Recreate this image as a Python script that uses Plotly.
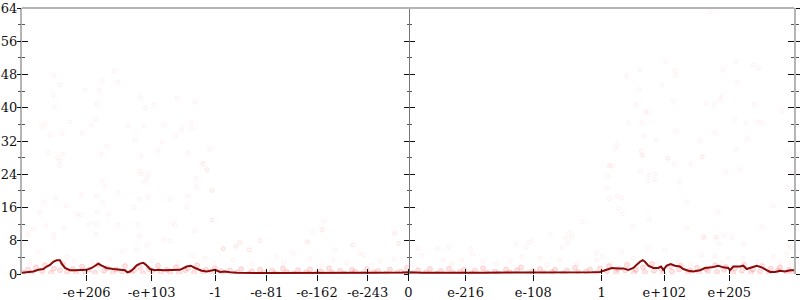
import plotly.graph_objects as go

# ---- tick labels (x axis is an ordinal float axis, positions in axis units) ----
x_tick_pos = [64.7, 129.7, 193.5, 244.7, 295.0, 345.7, 386.5, 443.7, 511.3, 579.7, 642.3, 707.3]
x_tick_text = ["-e+206", "-e+103", "-1", "-e-81", "-e-162", "-e-243", "0",
               "e-216", "e-108", "1", "e+102", "e+205"]
y_tick_vals = [0, 8, 16, 24, 32, 40, 48, 56, 64]

# ---- sparse error points (bits of error) ----
pts_x = [32.3, 38, 31.3, 32.3, 19.7, 23, 28, 40, 26.3, 35.3, 38, 37.3, 40.7, 33.3, 21.7, 17.3,
         23.7, 11.3, 5.7, 31.7, 32, 42, 44, 55.3, 59.3, 59.7, 60.3, 48, 63.3, 77.3, 80.7, 92,
         95.7, 74.7, 73.7, 69.3, 84.7, 79.3, 80.3, 83.3, 80.7, 74.7, 75.3, 73.7, 74, 66.7,
         86.7, 96, 96, 106, 113.3, 118.7, 123.3, 122.3, 131.7, 119.3, 117, 119.7, 126.3, 124.7,
         121.7, 135.7, 140, 141.7, 153.7, 155, 159.7, 173, 169.3, 170.3, 165.7, 187.7, 181.3,
         185, 174, 174.7, 189.7, 165.7, 164.7, 190, 172.7, 148, 126, 117, 112, 116.3, 117.3,
         141.7, 147.7, 150.3, 153.3, 125, 200.7, 213.7, 218, 238.7, 285.7, 291.3, 300.3, 301.7,
         330.7, 373, 376.3, 181.3, 184.7, 189.7, 190.3, 238, 218, 214, 201.3, 227.3, 299.7,
         285.3, 331.3, 372.3, 377.3,
         393, 560.7, 528, 547.3, 543.7, 550, 545.7, 510.7, 507.3, 494, 504, 539.7, 427.3, 415.3,
         396.3, 448.7, 604.7, 618, 643.7, 653, 654, 639.7, 616.7, 614.3, 623.3, 625, 606.7, 620,
         622, 634, 595, 593.7, 619, 621, 645.3, 652, 668.7, 587, 590.7, 586, 618, 627.3, 633.7,
         625.7, 632.7, 657.7, 585.3, 587.3, 595.7, 599.7, 596.7, 600.3, 627.3, 611, 664.7, 665,
         651.3, 683.7, 691.7, 698, 699.7, 701.3, 714, 731.3, 736.7, 715, 732, 712.7, 724, 735.3,
         740, 759.7, 653.7, 692.7, 678.3, 725, 713.7, 680.7, 704.3, 718.7, 768, 765.3, 751.3,
         740, 696, 680.7, 683, 693.7, 702, 710, 697.3, 721.7, 766.3, 768.7, 688, 619.7, 588,
         646.3, 679.7, 769.7, 681.3, 694.7,
         16.3, 52, 100.3, 114.7, 156.3, 183, 201.3, 227.3, 254.7, 271.3, 288, 311.3, 313, 338,
         341.3, 358, 211.3, 391.3, 421.3, 439.7, 461.3, 488, 518, 538, 574.7, 574.7, 643, 626.3,
         656.3, 679.7, 693, 706.3, 721.3, 751.3, 764.7, 769.7, 611.3, 580.3,
         8, 30, 45, 70, 88, 130, 170, 192, 230, 262, 300, 325, 350, 372, 400, 430, 450, 475,
         500, 525, 555, 590, 600, 635, 668, 700, 735, 758]
pts_y = [47.8, 45.6, 43.1, 40.2, 35.5, 36.2, 33.5, 33.8, 29.2, 28.0, 27.2, 26.1, 28.8, 18.4, 17.2, 14.8,
         11.6, 10.8, 9.4, 9.6, 8.6, 11.0, 16.4, 14.4, 14.2, 19.2, 34.0, 36.6, 44.2, 44.2, 46.6, 48.8,
         46.2, 40.9, 37.2, 35.8, 30.8, 28.9, 22.4, 21.1, 17.2, 18.7, 14.8, 12.1, 9.5, 12.0,
         14.4, 19.6, 11.8, 35.6, 32.4, 42.5, 39.9, 35.6, 40.7, 28.4, 24.8, 24.1, 24.0, 22.9,
         22.0, 29.7, 31.7, 36.0, 33.2, 42.3, 34.8, 41.3, 36.4, 35.0, 29.1, 30.0, 26.5,
         25.2, 23.1, 21.0, 20.0, 18.8, 16.1, 13.0, 10.4, 17.9, 18.5, 18.1, 16.0, 11.9, 9.1,
         8.2, 8.0, 12.2, 11.8, 6.9, 6.2, 6.8, 7.5, 8.0, 7.7, 10.1, 10.7, 12.7,
         7.0, 9.8, 7.4, 26.6, 25.0, 20.2, 13.0, 8.1, 7.6, 6.6, 6.0, 5.8, 10.6,
         7.8, 7.0, 9.7, 7.4,
         15.6, 12.5, 9.5, 9.8, 8.8, 8.9, 7.5, 8.2, 7.6, 7.3, 6.4, 6.4, 6.4, 6.2,
         6.2, 6.0, 47.6, 49.2, 51.0, 48.8, 47.8, 45.5, 44.4, 40.7, 39.0, 39.0, 36.4, 36.4,
         33.2, 32.2, 31.2, 30.2, 29.6, 28.5, 27.9, 26.5, 26.4, 26.1, 26.0, 23.6, 24.7, 23.8, 24.1,
         22.4, 22.8, 22.3, 20.5, 18.1, 18.8, 18.2, 15.7, 14.4, 13.2, 11.4, 17.2, 11.1,
         41.6, 41.0, 40.8, 42.0, 42.9, 49.2, 51.1, 50.3, 49.7, 46.0, 40.8, 37.1, 36.4, 36.6,
         36.4, 39.2, 34.3, 34.0, 32.0, 32.6, 30.0, 28.2, 24.5, 25.1, 29.0, 20.8, 16.4,
         11.4, 15.0, 8.8, 8.8, 8.8, 9.3, 8.8, 7.4, 7.3, 6.9, 6.4, 63.0, 28.6, 26.2,
         27.8, 28.2, 24.2, 9.0, 8.9,
         5.2, 3.2, 5.4, 5.8, 2.6, 3.8, 6.0, 5.8, 4.2, 5.0, 3.8, 3.4, 5.8, 5.0,
         4.6, 3.0, 3.4, 2.2, 3.4, 3.4, 3.0, 3.0, 3.8, 3.4, 5.0, 3.4, 5.8, 6.0,
         3.0, 4.6, 4.2, 3.8, 3.8, 4.2, 5.0, 2.2, 3.8, 4.2,
         2.5, 3.0, 4.2, 2.8, 3.6, 3.2, 4.4, 2.6, 2.4, 2.8, 2.0, 2.6, 2.2, 3.6, 4.4, 2.6, 4.8, 2.4,
         4.2, 2.2, 2.6, 2.4, 5.2, 2.8, 2.4, 2.6, 3.0, 2.6]

# ---- dense band of low-error points ----
band_x = [1, 6, 10, 14, 20, 23, 29, 32, 38, 41, 45, 51, 54, 60, 63, 67, 73, 76, 82, 85, 91, 94, 100,
          103, 109, 112, 118, 121, 127, 130, 136, 139, 145, 148, 154, 157, 163, 166, 172, 175, 181,
          184, 190, 193, 199, 203, 208, 215, 219, 227, 230, 238, 242, 250, 253, 261, 265, 272, 276,
          284, 288, 295, 299, 307, 310, 318, 322, 330, 333, 341, 345, 352, 356, 364, 368, 375, 379,
          385, 391, 396, 404, 408, 415, 419, 427, 431, 438, 442, 450, 453, 461, 465, 473, 476, 484,
          488, 495, 499, 507, 511, 518, 522, 530, 533, 541, 545, 553, 556, 564, 568, 575, 578, 585,
          587, 594, 596, 603, 605, 612, 614, 621, 623, 630, 632, 639, 641, 648, 650, 657, 659, 666,
          668, 675, 677, 684, 686, 693, 695, 702, 704, 711, 713, 720, 722, 729, 731, 738, 740, 747,
          749, 756, 758, 765, 767, 771]
band_y = [0.4, 1.1, 0.2, 1.6, 0.7, 2.1, 0.3, 1.3, 0.9, 2.4, 0.5, 1.2, 0.1, 1.8, 0.6, 1.0, 0.3, 2.2,
          0.8, 1.4, 0.2, 1.1, 0.6, 1.9, 0.4, 0.9, 1.5, 0.2, 1.2, 0.7, 2.0, 0.3, 1.0, 0.5, 1.6, 0.2,
          0.9, 1.3, 0.4, 2.1, 0.6, 1.0, 0.3, 1.4, 0.7, 0.2, 0.9, 0.4, 1.2, 0.1, 0.6, 1.0, 0.3, 0.8,
          0.2, 1.3, 0.5, 0.1, 0.9, 0.4, 1.1, 0.2, 0.6, 1.4, 0.3, 0.8, 0.1, 1.0, 0.5, 0.2, 1.2, 0.4,
          0.7, 0.1, 1.1, 0.3, 0.6, 1.5, 0.2, 0.9, 0.4, 1.2, 0.1, 0.7, 1.3, 0.3, 0.5, 1.0, 0.2, 0.8,
          1.4, 0.3, 0.6, 0.1, 1.1, 0.4, 0.9, 1.6, 0.2, 0.7, 1.2, 0.3, 0.5, 1.0, 0.1, 0.8, 1.5, 0.4,
          0.6, 1.1, 0.2, 1.3, 0.7, 1.9, 0.4, 1.2, 0.9, 2.2, 0.3, 1.0, 1.6, 0.5, 2.4, 0.8, 1.3, 0.2,
          1.8, 0.6, 1.1, 2.0, 0.4, 0.9, 1.5, 0.2, 1.2, 0.7, 2.1, 0.5, 1.0, 1.7, 0.3, 1.4, 0.8, 2.2,
          0.4, 1.1, 0.6, 1.9, 0.3, 1.3, 0.9, 1.6, 0.2, 1.0, 0.5, 1.4, 0.7, 1.2]

# ---- averaged error line ----
line_x = [0, 8, 11.3, 16.3, 21.3, 24.7, 28, 31.3, 34.7, 38, 39.7, 43, 48, 53, 58, 64.7, 69.7, 74,
          76.3, 79.7, 84.7, 91.3, 98, 103, 105.3, 108, 111.3, 114.7, 118, 121.3, 124, 128, 133,
          136.3, 141.3, 148, 158, 164.7, 168.7, 173, 179.7, 184.7, 189.7, 193, 198,
          203, 208, 215, 240, 265, 290, 320, 350, 380, 386, 400, 430, 460, 490, 520, 550, 570,
          578, 583, 589.7, 596.3, 601.3, 606.3, 611.3, 614.7, 618, 620.7, 623, 626.3, 631.3,
          636.3, 639, 641.3, 644.7, 648.7, 653, 658, 661.3, 666.3, 671.3, 678, 683, 689.7, 696.3,
          701.3, 706.3, 708, 711.3, 718, 721.3, 724.7, 729.7, 734.7, 739.7, 744.7, 748, 753, 758,
          763, 768, 772]
line_y = [0.3, 0.5, 0.6, 1.0, 1.2, 1.8, 2.2, 2.95, 3.3, 3.3, 2.5, 1.45, 0.9, 0.9, 1.0, 1.0, 1.45, 2.1,
          2.5, 2.0, 1.45, 1.2, 1.0, 0.9, 0.4, 0.6, 1.2, 2.1, 2.5, 2.7, 2.2, 1.2, 0.9,
          1.0, 0.9, 1.0, 1.0, 1.8, 2.0, 1.45, 0.8, 0.6, 0.9, 1.0, 0.5,
          0.6, 0.4, 0.3, 0.25, 0.3, 0.35, 0.3, 0.3, 0.35, 0.4, 0.3, 0.25, 0.3, 0.35, 0.35, 0.3, 0.4,
          0.5, 0.9, 1.45, 1.3, 1.35, 1.0, 1.45, 2.2, 2.95, 3.3, 2.95, 2.0, 1.45,
          1.45, 1.8, 1.0, 2.0, 2.4, 2.0, 1.8, 1.2, 0.8, 0.6, 0.9, 1.45, 1.6, 2.0,
          1.6, 1.45, 0.9, 1.8, 1.8, 2.0, 1.2, 1.6, 2.0, 1.6, 1.0, 0.5, 0.5, 0.8,
          0.6, 0.9, 0.9]

FONT = "'DejaVu Serif', 'Liberation Serif', serif"
X_RANGE = [0, 772]
Y_RANGE = [0, 64]

fig = go.Figure()
fig.add_trace(go.Scatter(
    x=band_x, y=band_y, mode="markers", hoverinfo="skip",
    marker=dict(size=5, color="rgba(255,0,0,0.10)", line=dict(width=1, color="rgba(255,0,0,0.12)")),
))
fig.add_trace(go.Scatter(
    x=pts_x, y=pts_y, mode="markers", hoverinfo="skip",
    marker=dict(size=4, color="rgba(255,0,0,0.01)", line=dict(width=1, color="rgba(255,0,0,0.05)")),
))
fig.add_trace(go.Scatter(
    x=line_x, y=line_y, mode="lines", hoverinfo="skip",
    line=dict(color="#8a0a0a", width=2),
))
# empty carrier traces so the overlay axes (crossing ticks, middle axis) get drawn
for xa, ya in [("x2", "y"), ("x", "y2"), ("x", "y3"), ("x", "y4"), ("x", "y5"),
               ("x", "y6"), ("x", "y7")]:
    fig.add_trace(go.Scatter(x=[None], y=[None], xaxis=xa, yaxis=ya, mode="markers",
                             hoverinfo="skip", showlegend=False))

minor_out = dict(ticks="outside", ticklen=3, dtick=4, tickcolor="#555", tickwidth=1)
minor_in = dict(ticks="inside", ticklen=3, dtick=4, tickcolor="#555", tickwidth=1)

common_y = dict(range=Y_RANGE, tickmode="array", tickvals=y_tick_vals, showgrid=False,
                zeroline=False, fixedrange=True, tickcolor="#111", tickwidth=1, automargin=False)

fig.update_layout(
    width=800, height=300,
    margin=dict(l=22, r=6, t=8, b=26, pad=0, autoexpand=False),
    paper_bgcolor="white", plot_bgcolor="white",
    showlegend=False,
    font=dict(family=FONT, size=13, color="#111"),
    xaxis=dict(range=X_RANGE, tickmode="array", tickvals=x_tick_pos, ticktext=x_tick_text,
               ticks="outside", ticklen=6, tickcolor="#111", tickwidth=1, automargin=False,
               showline=False, showgrid=False, zeroline=False,
               tickfont=dict(family=FONT, size=13, color="#111")),
    xaxis2=dict(range=X_RANGE, overlaying="x", anchor="y", side="bottom", automargin=False,
                tickmode="array", tickvals=x_tick_pos, showticklabels=False,
                ticks="inside", ticklen=5, tickcolor="#111", tickwidth=1,
                showline=False, showgrid=False, zeroline=False),
    # left axis: line + labels only
    yaxis=dict(**common_y, ticks="", ticklen=0, showline=True, linecolor="#b4b4b4",
               linewidth=2, tickfont=dict(family=FONT, size=13, color="#111")),
    # left axis ticks, outside and inside halves
    yaxis7=dict(**common_y, overlaying="y", anchor="x", side="left", ticks="outside", ticklen=4,
                showticklabels=False, showline=False, minor=minor_out),
    yaxis2=dict(**common_y, overlaying="y", anchor="x", side="left", ticks="inside", ticklen=6,
                showticklabels=False, showline=False, minor=minor_in),
    yaxis3=dict(**common_y, overlaying="y", anchor="free", position=386.5 / 772, side="left",
                ticks="outside", ticklen=5, showticklabels=False, showline=True,
                linecolor="#777", linewidth=1, minor=dict(minor_out, ticklen=2)),
    yaxis4=dict(**common_y, overlaying="y", anchor="free", position=386.5 / 772, side="left",
                ticks="inside", ticklen=5, showticklabels=False, showline=False,
                minor=dict(minor_in, ticklen=2)),
    yaxis5=dict(**common_y, overlaying="y", anchor="x", side="right", ticks="outside",
                ticklen=6, showticklabels=False, showline=True, linecolor="#b4b4b4",
                linewidth=2, minor=minor_out),
    yaxis6=dict(**common_y, overlaying="y", anchor="x", side="right", ticks="inside",
                ticklen=6, showticklabels=False, showline=False, minor=minor_in),
    shapes=[dict(type="line", xref="paper", yref="paper", x0=0, x1=1, y0=1, y1=1,
                 line=dict(color="#b4b4b4", width=2))],
)

fig.write_html("out.html")
